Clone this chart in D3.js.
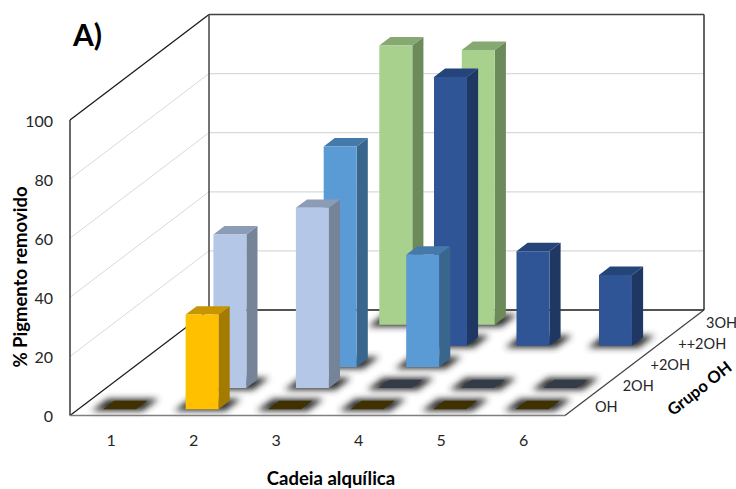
<!DOCTYPE html>
<html>
<head>
<meta charset="utf-8">
<script src="https://cdn.jsdelivr.net/npm/d3@7"></script>
<style>
  body { margin: 0; background: #fff; }
  svg { display: block; font-family: Lato, "Open Sans", sans-serif; }
</style>
</head>
<body>
<svg id="chart" width="736" height="489"></svg>
<script>
// Categories (alkyl chain length) and depth series (OH groups)
const categories = ["1", "2", "3", "4", "5", "6"];
const groups = ["OH", "2OH", "+2OH", "++2OH", "3OH"];

// % pigment removed per series; null = no bar, 0 = flat bar
const serOH    = [0, 32, 0, 0, 0, 0];
const ser2OH   = [null, 52, 61, 0, 0, 0];
const serP2OH  = [null, null, 74.6, 38, null, null];
const serPP2OH = [null, null, null, 91, 32, 24];
const ser3OH   = [null, null, 94.5, 93, null, null];

const yTicks = [0, 20, 40, 60, 80, 100];
const gridTicks = [20, 40, 60, 80];

const seriesValues = [serOH, ser2OH, serP2OH, serPP2OH, ser3OH];

// front / top / side / flat (zero-height) shades per series
const palette = [
  { front: "#FFC000", top: "#C69500", side: "#A47B00", flat: "#403100" },
  { front: "#B4C7E7", top: "#8C9CB7", side: "#76849A", flat: "#343C4A" },
  { front: "#5B9BD5", top: "#4479AA", side: "#3A668D", flat: "#28384A" },
  { front: "#2F5597", top: "#254479", side: "#1F3863", flat: "#1A2438" },
  { front: "#A9D18E", top: "#86A871", side: "#6D8A5B", flat: "#344028" }
];

const svg = d3.select("#chart");

// oblique projection: depth fraction 0..1 shifts by (DX, DY)
const DX = 139, DY = -105.5;
const x = d3.scaleBand().domain(categories).range([70, 565]);
const z = d3.scaleBand().domain(groups).range([0, 1]);
const y = d3.scaleLinear().domain([0, 100]).range([415.5, 120]);
const P = (px, v, d) => [px + d * DX, y(v) + d * DY];
const poly = pts => "M" + pts.map(p => p.join(",")).join("L") + "Z";

const defs = svg.append("defs");
defs.append("filter").attr("id", "shadowBlur")
  .attr("x", "-50%").attr("y", "-50%").attr("width", "200%").attr("height", "200%")
  .append("feGaussianBlur").attr("stdDeviation", 3.4);

// walls
const xL = x.range()[0], xR = x.range()[1];
svg.append("path")
  .attr("d", poly([P(xL, 0, 1), P(xR, 0, 1), P(xR, 100, 1), P(xL, 100, 1)]))
  .attr("fill", "#fff");

// gridlines on left wall and back wall
gridTicks.forEach(v => {
  svg.append("line")
    .attr("x1", P(xL, v, 0)[0]).attr("y1", P(xL, v, 0)[1])
    .attr("x2", P(xL, v, 1)[0]).attr("y2", P(xL, v, 1)[1])
    .attr("stroke", "#d9d9d9").attr("stroke-width", 1);
  svg.append("line")
    .attr("x1", P(xL, v, 1)[0]).attr("y1", P(xL, v, 1)[1])
    .attr("x2", P(xR, v, 1)[0]).attr("y2", P(xR, v, 1)[1])
    .attr("stroke", "#d9d9d9").attr("stroke-width", 1.2);
});

// wall outlines
const edge = (a, b, color, w) => svg.append("line")
  .attr("x1", a[0]).attr("y1", a[1]).attr("x2", b[0]).attr("y2", b[1])
  .attr("stroke", color).attr("stroke-width", w);
edge(P(xL, 0, 0), P(xL, 100, 0), "#1a1a1a", 1.3);
edge(P(xL, 100, 0), P(xL, 100, 1), "#1a1a1a", 1.3);
edge(P(xL, 100, 1), P(xR, 100, 1), "#404040", 1.6);
edge(P(xR, 100, 1), P(xR, 0, 1), "#404040", 1.6);
edge(P(xL, 100, 1), P(xL, 0, 1), "#505050", 1.6);

// bar geometry helpers
function geom(ci, gi) {
  const c = categories[ci], g = groups[gi];
  const cx = x(c) + x.bandwidth() / 2, hw = x.bandwidth() * 0.2;
  const dc = z(g) + z.bandwidth() / 2, hd = z.bandwidth() * 0.2;
  return { x0: cx - hw, x1: cx + hw, d0: dc - hd, d1: dc + hd };
}

// floor shadows under every bar
const shadowLayer = svg.append("g").attr("filter", "url(#shadowBlur)");
seriesValues.forEach((vals, gi) => {
  vals.forEach((v, ci) => {
    if (v === null) return;
    const b = geom(ci, gi);
    const ex = 9, ed = 0.018;
    shadowLayer.append("path")
      .attr("d", poly([P(b.x0 - ex, 0, b.d0 - ed), P(b.x1 + ex, 0, b.d0 - ed),
                       P(b.x1 + ex, 0, b.d1 + ed), P(b.x0 - ex, 0, b.d1 + ed)]))
      .attr("fill", "#2e2e2e").attr("opacity", 1);
  });
});

// floor edges
edge(P(xL, 0, 0), P(xL, 0, 1), "#1a1a1a", 1.2);
edge(P(xL, 0, 1), P(xR, 0, 1), "#1a1a1a", 1.4);
edge(P(xR, 0, 0), P(xR, 0, 1), "#404040", 1.2);
edge(P(xL, 0, 0), P(xR, 0, 0), "#7f7f7f", 1.4);

// bars, drawn from the back row to the front row
const barLayer = svg.append("g");
for (let gi = groups.length - 1; gi >= 0; gi--) {
  const col = palette[gi];
  seriesValues[gi].forEach((v, ci) => {
    if (v === null) return;
    const b = geom(ci, gi);
    if (v === 0) {
      barLayer.append("path")
        .attr("d", poly([P(b.x0, 0, b.d0), P(b.x1, 0, b.d0), P(b.x1, 0, b.d1), P(b.x0, 0, b.d1)]))
        .attr("fill", col.flat);
      return;
    }
    barLayer.append("path")
      .attr("d", poly([P(b.x1, 0, b.d0), P(b.x1, 0, b.d1), P(b.x1, v, b.d1), P(b.x1, v, b.d0)]))
      .attr("fill", col.side);
    barLayer.append("path")
      .attr("d", poly([P(b.x0, v, b.d0), P(b.x1, v, b.d0), P(b.x1, v, b.d1), P(b.x0, v, b.d1)]))
      .attr("fill", col.top);
    barLayer.append("path")
      .attr("d", poly([P(b.x0, 0, b.d0), P(b.x1, 0, b.d0), P(b.x1, v, b.d0), P(b.x0, v, b.d0)]))
      .attr("fill", col.front);
  });
}

// value axis
const yAxis = d3.axisLeft(y).tickValues(yTicks).tickSize(0).tickPadding(17);
svg.append("g").attr("transform", `translate(${xL},1)`).call(yAxis)
  .call(g => g.select(".domain").remove())
  .call(g => g.selectAll("text").attr("font-size", 16).attr("fill", "#262626")
    .attr("font-family", "Lato, 'Open Sans', sans-serif"));

// category axis
const xAxis = d3.axisBottom(x).tickSize(0).tickPadding(19);
svg.append("g").attr("transform", `translate(0,${y(0)})`).call(xAxis)
  .call(g => g.select(".domain").remove())
  .call(g => g.selectAll("text").attr("font-size", 16).attr("fill", "#262626")
    .attr("font-family", "Lato, 'Open Sans', sans-serif"));

// depth (series) axis labels along the right floor edge
svg.append("g").selectAll("text").data(groups).join("text")
  .attr("x", g => P(xR, 0, z(g) + z.bandwidth() / 2)[0] + 16)
  .attr("y", g => P(xR, 0, z(g) + z.bandwidth() / 2)[1] + 2)
  .attr("dy", "0.35em")
  .attr("font-size", 14.5).attr("fill", "#262626")
  .text(g => g);

// titles
svg.append("text").attr("x", 73).attr("y", 46)
  .attr("font-size", 30).attr("font-weight", "bold").attr("fill", "#000")
  .text("A)");

svg.append("text").attr("x", 331).attr("y", 485)
  .attr("text-anchor", "middle").attr("font-size", 18.5).attr("font-weight", "bold")
  .attr("fill", "#000").text("Cadeia alquílica");

svg.append("text").attr("transform", "translate(27,277) rotate(-90)")
  .attr("text-anchor", "middle").attr("font-size", 18.5).attr("font-weight", "bold")
  .attr("fill", "#000").text("% Pigmento removido");

svg.append("text").attr("transform", "translate(703,393) rotate(-38)")
  .attr("text-anchor", "middle").attr("font-size", 16.5).attr("font-weight", "bold")
  .attr("fill", "#000").text("Grupo OH");
</script>
</body>
</html>
